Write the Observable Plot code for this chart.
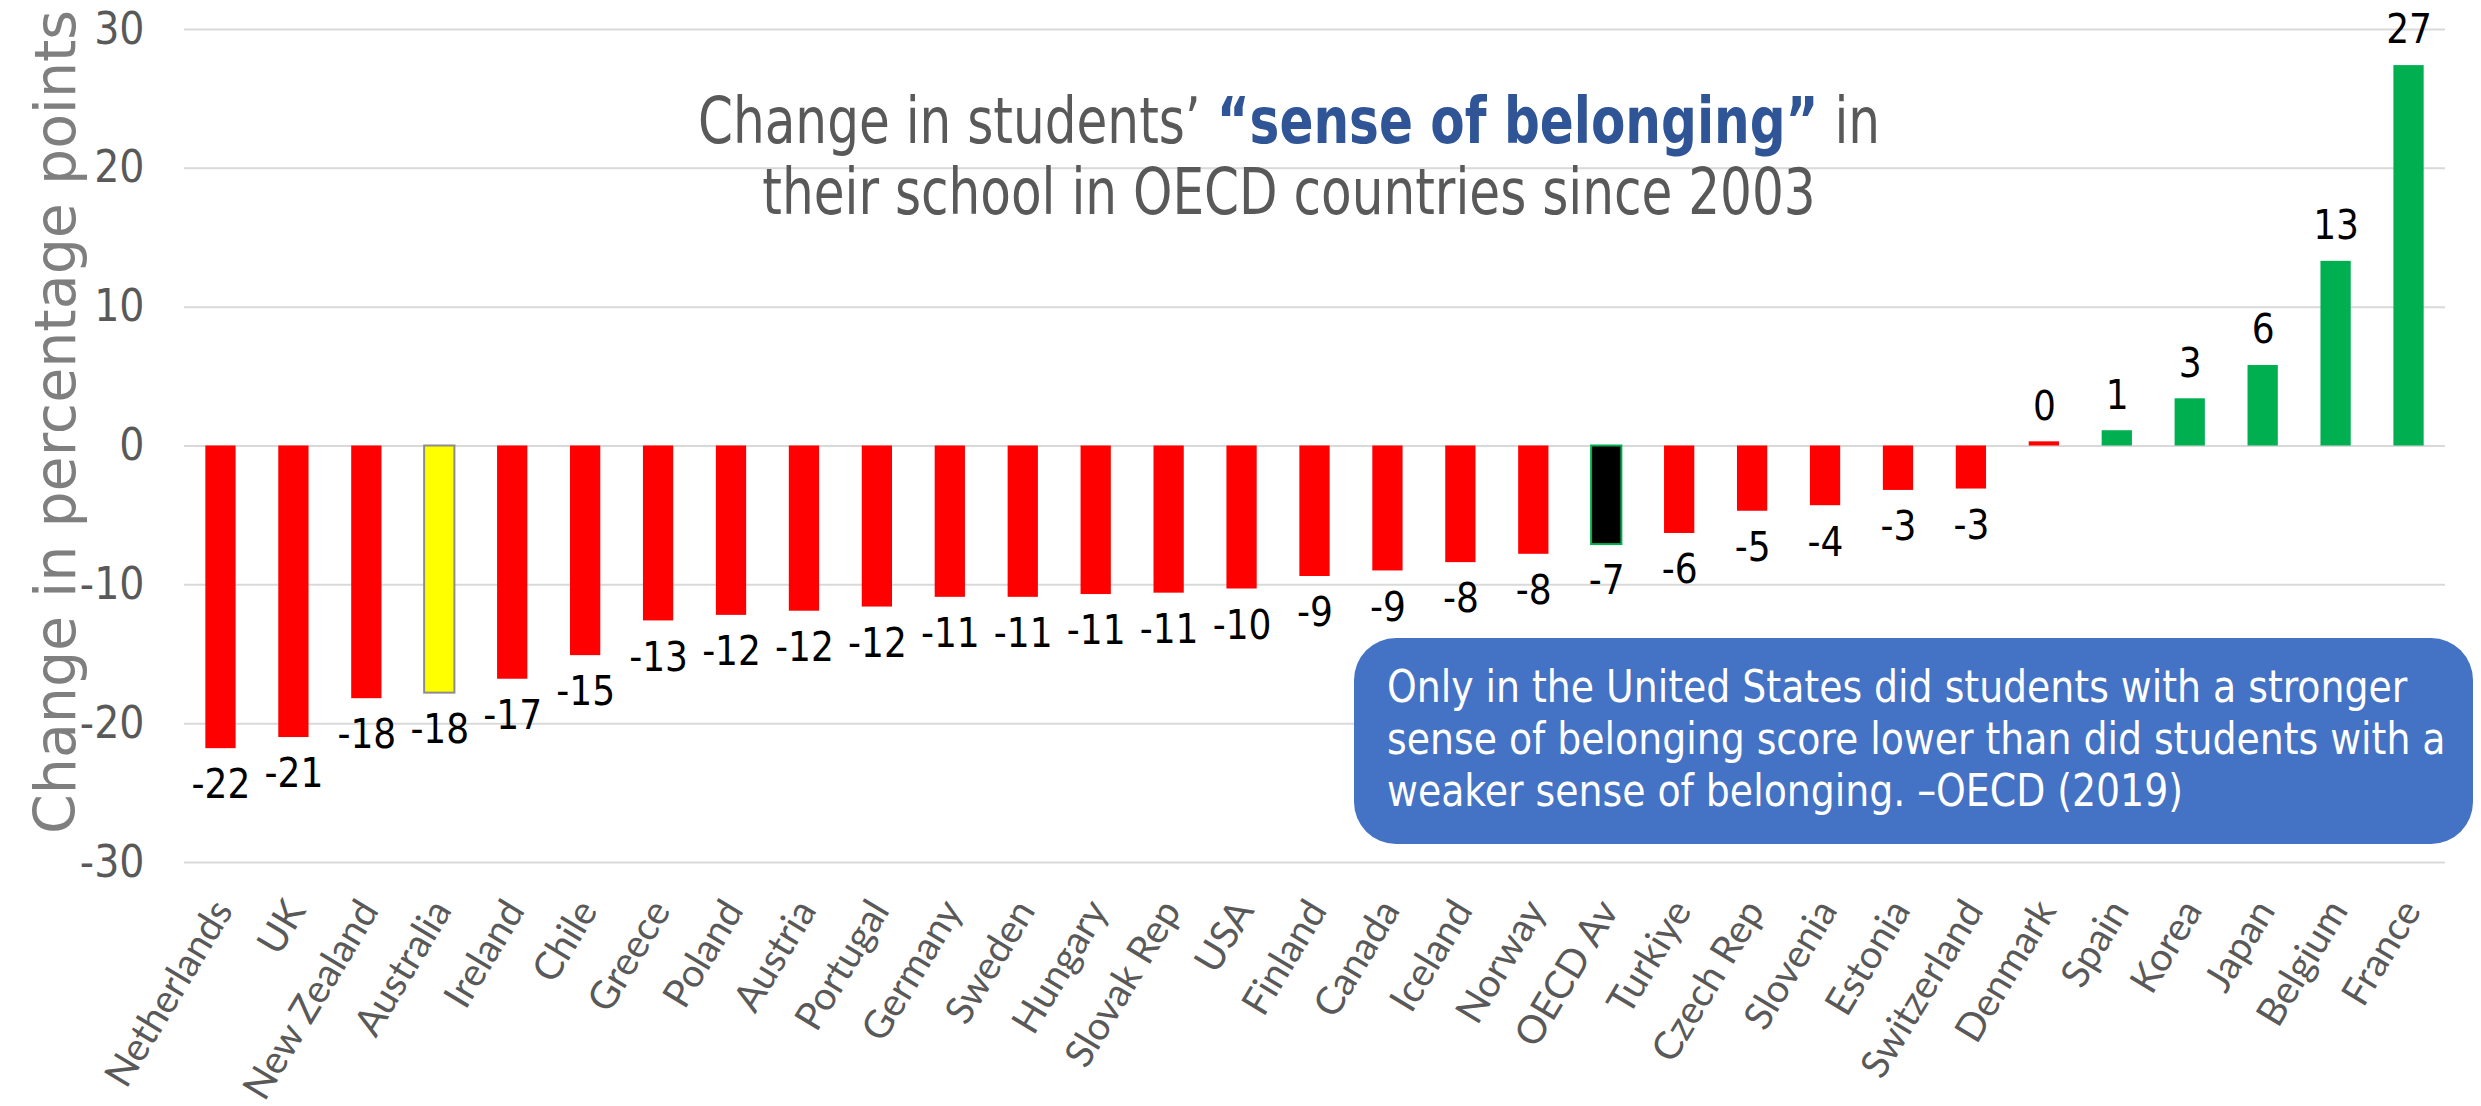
<!DOCTYPE html>
<html><head><meta charset="utf-8">
<script src="https://cdn.jsdelivr.net/npm/d3@7"></script>
<script src="https://cdn.jsdelivr.net/npm/@observablehq/plot@0.6"></script>
<style>
body{margin:0;background:#fff;}
#wrap{position:relative;width:2481px;height:1106px;overflow:hidden;background:#fff;}
#chart{position:absolute;left:0;top:0;}
#title{position:absolute;left:0;width:2578px;top:86px;text-align:center;font-family:"Liberation Sans Narrow","Arial Narrow","DejaVu Sans Condensed",sans-serif;font-size:64px;line-height:71px;color:#595959;white-space:nowrap;transform:scaleX(0.87);transform-origin:1289px 0;}
#title b{color:#2F5597;font-weight:bold;}
#note{position:absolute;left:1354px;top:638px;width:1119px;height:206px;box-sizing:border-box;border-radius:42px;background:#4472C4;font-family:"Liberation Sans Narrow","Arial Narrow","DejaVu Sans Condensed",sans-serif;font-size:44px;line-height:52px;color:#fff;white-space:nowrap;}
#note span{position:absolute;left:33px;top:23px;transform:scaleX(0.955);transform-origin:0 0;}
</style>
</head><body>
<div id="wrap">
  <div id="chart"></div>
  <div id="title">Change in students’ <b>“sense of belonging”</b> in<br>their school in OECD countries since 2003</div>
  <div id="note"><span>Only in the United States did students with a stronger<br>sense of belonging score lower than did students with a<br>weaker sense of belonging. –OECD (2019)</span></div>
</div>
<script>
const countries = ["Netherlands","UK","New Zealand","Australia","Ireland","Chile","Greece","Poland","Austria","Portugal","Germany","Sweden","Hungary","Slovak Rep","USA","Finland","Canada","Iceland","Norway","OECD Av","Turkiye","Czech Rep","Slovenia","Estonia","Switzerland","Denmark","Spain","Korea","Japan","Belgium","France"];
const changes = [-21.8,-21.0,-18.2,-17.8,-16.8,-15.1,-12.6,-12.2,-11.9,-11.6,-10.9,-10.9,-10.7,-10.6,-10.3,-9.4,-9.0,-8.4,-7.8,-7.1,-6.3,-4.7,-4.3,-3.2,-3.1,0.3,1.1,3.4,5.8,13.3,27.4];
const yTicks = [-30,-20,-10,0,10,20,30];
const yTitle = ["Change in percentage points"];

const data = countries.map((c, i) => ({country: c, value: changes[i]}));
const narrow = '"Liberation Sans Narrow","Arial Narrow","DejaVu Sans Condensed",sans-serif';
const fillOf = d => d.country === "Australia" ? "#FFFF00" : d.country === "OECD Av" ? "#000000" : (d.value >= 0.5 ? "#00B050" : "#FF0000");
const strokeOf = d => d.country === "Australia" ? "#8c8c8c" : d.country === "OECD Av" ? "#00B050" : "none";

const chart = Plot.plot({
  width: 2481, height: 1106,
  marginLeft: 184, marginRight: 36, marginTop: 29, marginBottom: 244,
  x: {domain: countries, paddingInner: 0.585, paddingOuter: 0.2925, round: false, axis: null},
  y: {domain: [-30, 30], axis: null},
  color: {type: "identity"},
  style: {background: "transparent", fontFamily: narrow},
  marks: [
    Plot.gridY(yTicks, {stroke: "#d9d9d9", strokeOpacity: 1, strokeWidth: 2}),
    Plot.axisY(yTicks, {tickSize: 0, tickPadding: 40, fontSize: 44, fill: "#595959", fontFamily: narrow, tickFormat: d => String(d), label: null}),
    Plot.barY(data, {x: "country", y: "value", fill: fillOf, stroke: strokeOf, strokeWidth: 2}),
    Plot.text(data.filter(d => d.value < 0), {x: "country", y: "value", text: d => String(Math.round(d.value)), dy: 37, fontSize: 40, fill: "#000", fontFamily: narrow, ariaLabel: "values"}),
    Plot.text(data.filter(d => d.value >= 0), {x: "country", y: "value", text: d => String(Math.round(d.value)), dy: -35, fontSize: 40, fill: "#000", fontFamily: narrow, ariaLabel: "values"}),
    Plot.text(countries, {x: d => d, text: d => d, frameAnchor: "bottom", rotate: -59, textAnchor: "end", lineAnchor: "bottom", dx: 13, dy: 48, fontSize: 39, fill: "#595959", fontFamily: "Lato"}),
    Plot.text(yTitle, {text: d => d, frameAnchor: "left", rotate: -90, textAnchor: "middle", lineAnchor: "bottom", dx: -110, dy: -24, fontSize: 57, fill: "#7f7f7f", fontFamily: "DejaVu Sans"})
  ]
});
document.getElementById("chart").appendChild(chart);
// condense the value labels to match the narrow typeface of the original
chart.querySelectorAll('g[aria-label="values"] text').forEach(t => {
  const L = t.getComputedTextLength();
  t.setAttribute("textLength", (L * 0.84).toFixed(1));
  t.setAttribute("lengthAdjust", "spacingAndGlyphs");
});
</script>
</body></html>
